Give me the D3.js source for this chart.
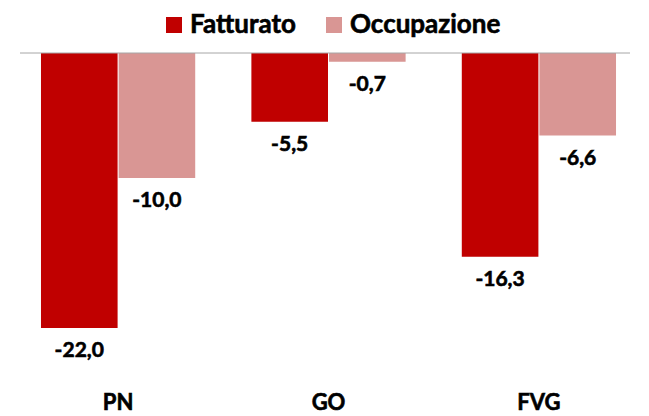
<!DOCTYPE html>
<html>
<head>
<meta charset="utf-8">
<script src="https://cdn.jsdelivr.net/npm/d3@7"></script>
<style>
  body { margin: 0; background: #fff; }
  text { font-family: Lato, "Open Sans", sans-serif; font-weight: bold; fill: #000; stroke: #000; stroke-width: 0.6px; }
</style>
</head>
<body>
<script>
var width = 649;
var height = 416;

var categories = ["PN", "GO", "FVG"];
var seriesNames = ["Fatturato", "Occupazione"];
var fatturato = [-22.0, -5.5, -16.3];
var occupazione = [-10.0, -0.7, -6.6];
var colors = ["#C00000", "#D99694"];

var svg = d3.select("body")
    .append("svg")
    .attr("width", width)
    .attr("height", height);

var x0 = d3.scaleBand()
    .domain(categories)
    .range([13, 644])
    .paddingInner(0.267)
    .paddingOuter(0.133);

var x1 = d3.scaleBand()
    .domain(seriesNames)
    .range([0, x0.bandwidth()])
    .paddingInner(0.013);

var y = d3.scaleLinear()
    .domain([0, -22])
    .range([53, 328]);

var fmt = function(v) { return d3.format(".1f")(v).replace(".", ",").replace("−", "-"); };

var rows = categories.map(function(c, i) {
    return { cat: c, values: [fatturato[i], occupazione[i]] };
});

var groups = svg.selectAll("g.group")
    .data(rows)
    .enter().append("g")
    .attr("class", "group")
    .attr("transform", function(d) { return "translate(" + x0(d.cat) + ",0)"; });

groups.selectAll("rect")
    .data(function(d) { return d.values.map(function(v, j) { return { name: seriesNames[j], v: v, j: j }; }); })
    .enter().append("rect")
    .attr("x", function(d) { return x1(d.name); })
    .attr("y", y(0))
    .attr("width", x1.bandwidth())
    .attr("height", function(d) { return y(d.v) - y(0); })
    .attr("fill", function(d) { return colors[d.j]; });

groups.selectAll("text.val")
    .data(function(d) { return d.values.map(function(v, j) { return { name: seriesNames[j], v: v }; }); })
    .enter().append("text")
    .attr("class", "val")
    .attr("x", function(d) { return x1(d.name) + x1.bandwidth() / 2; })
    .attr("y", function(d) { return y(d.v) + 29; })
    .attr("text-anchor", "middle")
    .style("font-size", "21px")
    .text(function(d) { return fmt(d.v); });

// zero line
svg.append("line")
    .attr("x1", 20).attr("x2", 630)
    .attr("y1", y(0)).attr("y2", y(0))
    .attr("stroke", "#A6A6A6")
    .attr("stroke-width", 1);

// category labels
svg.selectAll("text.cat")
    .data(categories)
    .enter().append("text")
    .attr("class", "cat")
    .attr("x", function(d) { return x0(d) + x0.bandwidth() / 2; })
    .attr("y", 410)
    .attr("text-anchor", "middle")
    .style("font-size", "22px")
    .text(function(d) { return d; });

// legend
var legendX = [166, 326];
var legend = svg.selectAll("g.legend")
    .data(seriesNames)
    .enter().append("g")
    .attr("class", "legend")
    .attr("transform", function(d, i) { return "translate(" + legendX[i] + ",0)"; });

legend.append("rect")
    .attr("x", 0).attr("y", 17)
    .attr("width", 16).attr("height", 16)
    .attr("fill", function(d, i) { return colors[i]; });

legend.append("text")
    .attr("x", 24)
    .attr("y", 33)
    .style("font-size", "26px")
    .text(function(d) { return d; });
</script>
</body>
</html>
